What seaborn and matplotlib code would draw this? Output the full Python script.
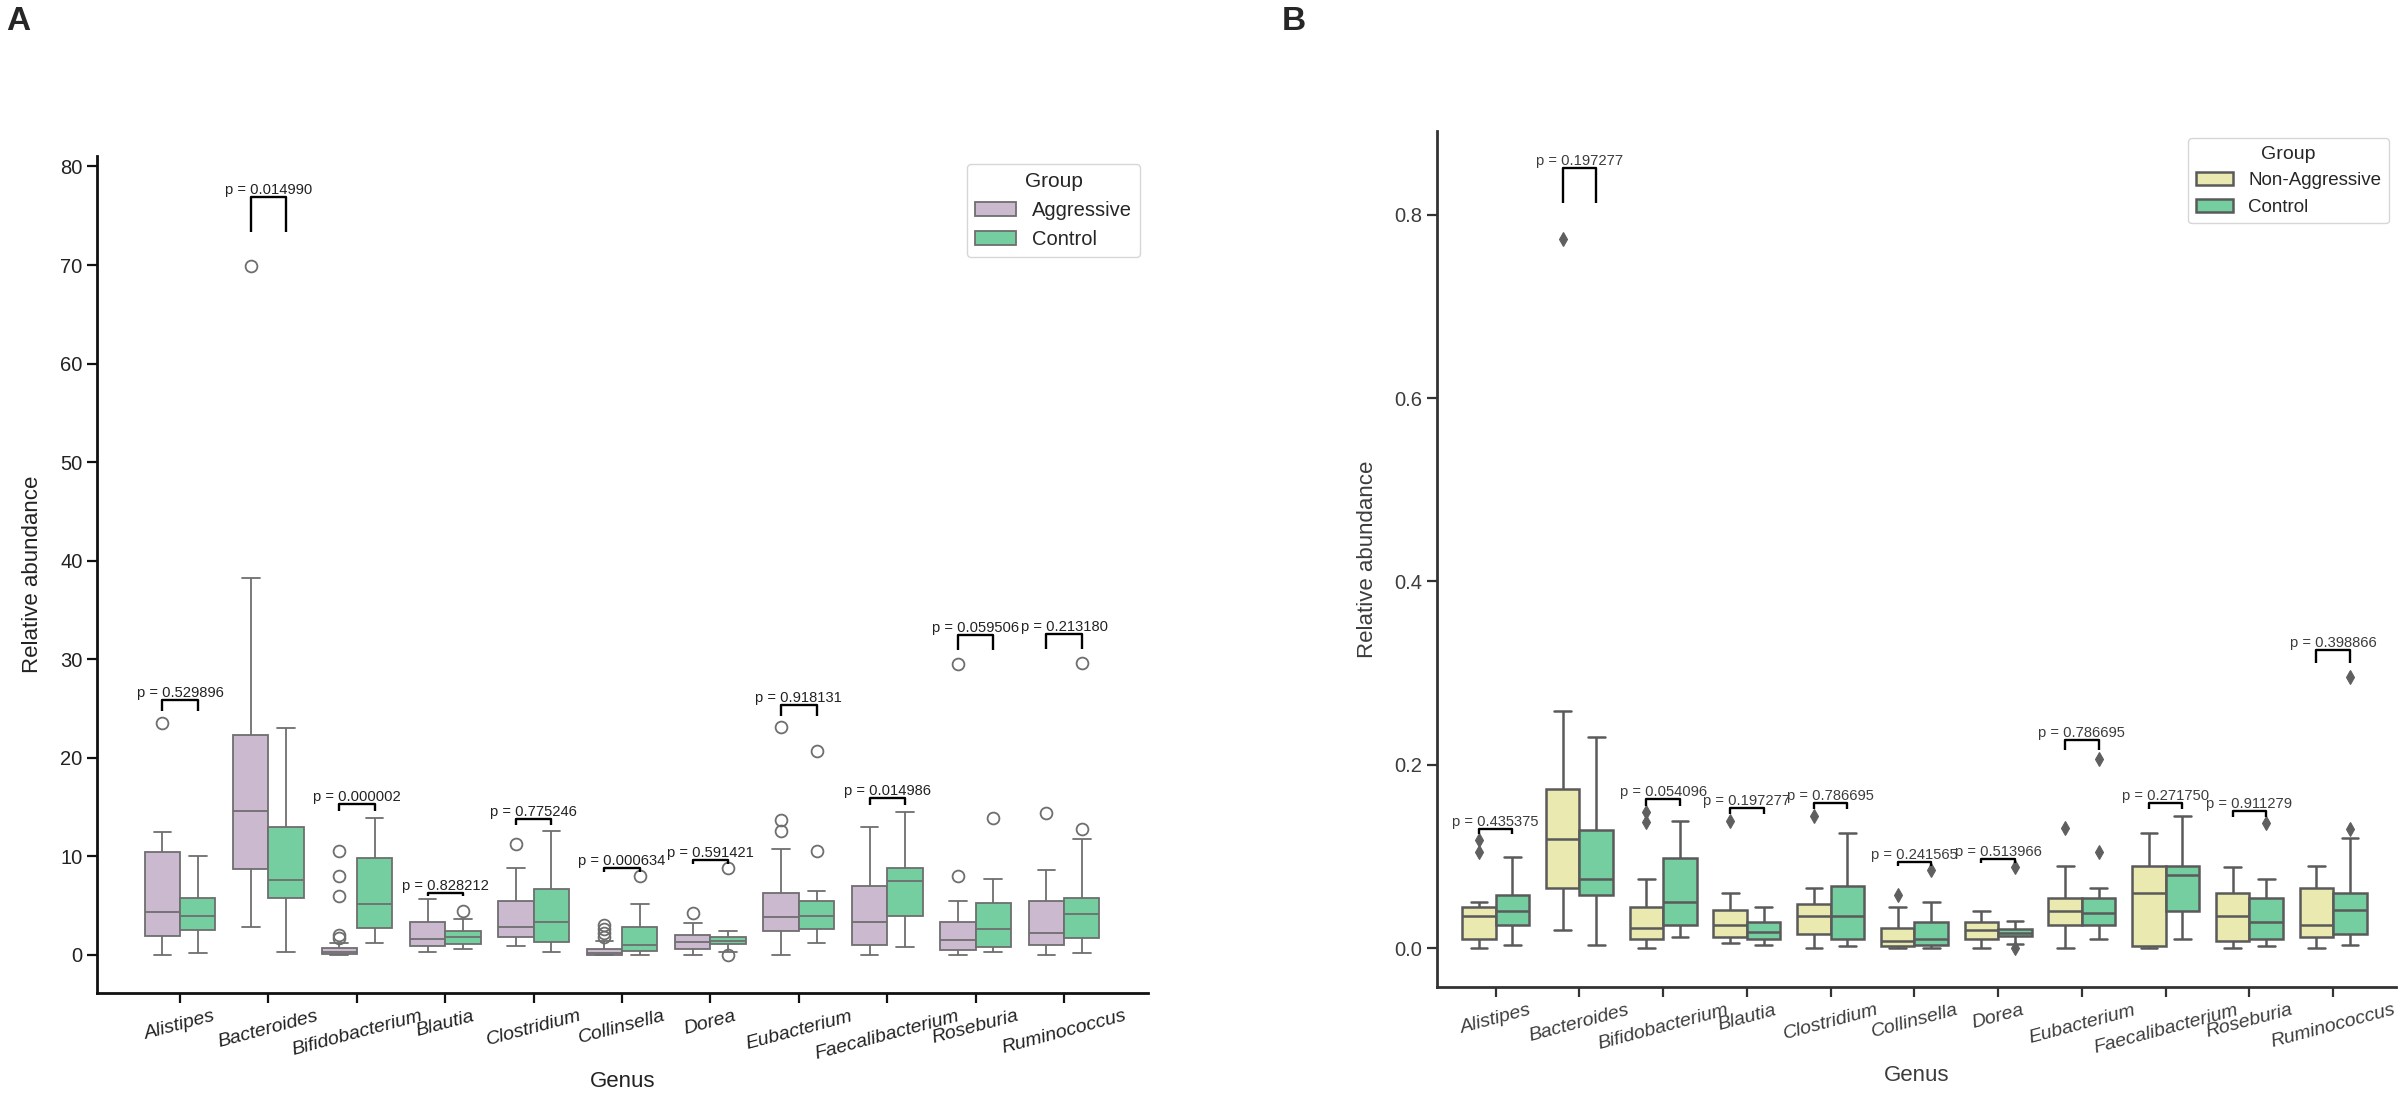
import numpy as np
import pandas as pd
import matplotlib
matplotlib.use("Agg")
import matplotlib.pyplot as plt
import seaborn as sns

# ---------------- data ----------------
genera = ["Alistipes", "Bacteroides", "Bifidobacterium", "Blautia", "Clostridium",
          "Collinsella", "Dorea", "Eubacterium", "Faecalibacterium", "Roseburia",
          "Ruminococcus"]

# Panel A : Aggressive vs Control (box summaries)
aggA_lo  = [0.0, 2.8, 0.0, 0.3, 0.9, 0.0, 0.0, 0.0, 0.0, 0.0, 0.0]
aggA_q1  = [1.9, 8.7, 0.1, 0.9, 1.8, 0.0, 0.6, 2.4, 1.0, 0.5, 1.0]
aggA_med = [4.4, 14.6, 0.3, 1.6, 2.8, 0.15, 1.3, 3.9, 3.3, 1.5, 2.2]
aggA_q3  = [10.4, 22.3, 0.7, 3.3, 5.5, 0.6, 2.0, 6.3, 7.0, 3.3, 5.5]
aggA_hi  = [12.5, 38.2, 1.2, 5.7, 8.8, 1.4, 3.2, 10.8, 13.0, 5.5, 8.6]
aggA_out = [[23.56], [69.9], [1.7, 2.0, 6.0, 8.0, 10.5], [], [11.3],
            [1.8, 2.2, 2.6, 3.0], [4.3], [12.6, 13.7, 23.1], [], [8.0, 29.5], [14.4]]

ctlA_lo  = [0.2, 0.3, 1.2, 0.6, 0.3, 0.0, 0.3, 1.2, 0.8, 0.3, 0.2]
ctlA_q1  = [2.5, 5.8, 2.7, 1.1, 1.3, 0.4, 1.1, 2.6, 4.0, 0.8, 1.7]
ctlA_med = [4.0, 7.6, 5.2, 1.8, 3.3, 1.0, 1.4, 4.0, 7.5, 2.6, 4.2]
ctlA_q3  = [5.8, 13.0, 9.8, 2.4, 6.7, 2.8, 1.8, 5.5, 8.8, 5.3, 5.8]
ctlA_hi  = [10.0, 23.05, 13.9, 3.6, 12.55, 5.2, 2.4, 6.5, 14.5, 7.7, 11.8]
ctlA_out = [[], [], [], [4.5], [], [8.0], [0.0, 8.8], [10.5, 20.7], [], [13.9], [12.8, 29.6]]

pA = ["0.529896", "0.014990", "0.000002", "0.828212", "0.775246", "0.000634",
      "0.591421", "0.918131", "0.014986", "0.059506", "0.213180"]

# Panel B : Non-Aggressive vs Control
naB_lo  = [0.0, 0.02, 0.0, 0.005, 0.0, 0.0, 0.0, 0.0, 0.0, 0.0, 0.0]
naB_q1  = [0.01, 0.065, 0.01, 0.012, 0.015, 0.002, 0.01, 0.025, 0.002, 0.008, 0.012]
naB_med = [0.035, 0.119, 0.022, 0.025, 0.035, 0.008, 0.02, 0.04, 0.06, 0.035, 0.025]
naB_q3  = [0.045, 0.174, 0.045, 0.042, 0.048, 0.022, 0.028, 0.055, 0.09, 0.06, 0.065]
naB_hi  = [0.05, 0.259, 0.075, 0.06, 0.065, 0.045, 0.04, 0.09, 0.126, 0.088, 0.09]
naB_out = [[0.105, 0.118], [0.774], [0.138, 0.148], [0.139], [0.144], [0.058],
           [], [0.131], [], [], []]

ctlB_lo  = [0.003, 0.003, 0.012, 0.003, 0.002, 0.0, 0.004, 0.01, 0.01, 0.002, 0.003]
ctlB_q1  = [0.025, 0.058, 0.025, 0.01, 0.01, 0.003, 0.013, 0.025, 0.04, 0.01, 0.015]
ctlB_med = [0.04, 0.075, 0.05, 0.018, 0.035, 0.01, 0.016, 0.038, 0.08, 0.028, 0.042]
ctlB_q3  = [0.058, 0.129, 0.098, 0.028, 0.068, 0.028, 0.021, 0.055, 0.09, 0.055, 0.06]
ctlB_hi  = [0.0998, 0.230, 0.139, 0.045, 0.125, 0.05, 0.03, 0.065, 0.144, 0.075, 0.12]
ctlB_out = [[], [], [], [], [], [0.085], [0.0, 0.088], [0.105, 0.206], [], [0.136],
            [0.13, 0.296]]

pB = ["0.435375", "0.197277", "0.054096", "0.197277", "0.786695", "0.241565",
      "0.513966", "0.786695", "0.271750", "0.911279", "0.398866"]

groupsA = ["Aggressive", "Control"]
groupsB = ["Non-Aggressive", "Control"]


def sample(lo, q1, med, q3, hi, out, reps=10):
    # a sample whose quartiles, whisker ends and outliers are the read values
    return [lo] + [q1] * reps + [med] * reps + [q3] * reps + [hi] + list(out)


def build(groups, a, b):
    rows = []
    for gname, summ in zip(groups, (a, b)):
        lo, q1, med, q3, hi, out = summ
        for i, g in enumerate(genera):
            for v in sample(lo[i], q1[i], med[i], q3[i], hi[i], out[i]):
                rows.append((g, gname, v))
    return pd.DataFrame(rows, columns=["Genus", "Group", "value"])


dfA = build(groupsA, (aggA_lo, aggA_q1, aggA_med, aggA_q3, aggA_hi, aggA_out),
            (ctlA_lo, ctlA_q1, ctlA_med, ctlA_q3, ctlA_hi, ctlA_out))
dfB = build(groupsB, (naB_lo, naB_q1, naB_med, naB_q3, naB_hi, naB_out),
            (ctlB_lo, ctlB_q1, ctlB_med, ctlB_q3, ctlB_hi, ctlB_out))

# ---------------- style ----------------
sns.set_style("ticks")
plt.rcParams["font.family"] = ["Liberation Sans", "DejaVu Sans"]

W, H = 2400, 1107
fig = plt.figure(figsize=(W / 100, H / 100), dpi=100)


def px_axes(x0, y0, x1, y1):
    return fig.add_axes([x0 / W, 1 - y1 / H, (x1 - x0) / W, (y1 - y0) / H])


axA = px_axes(97, 156, 1148, 993)
axB = px_axes(1437, 131, 2396, 987)


def panel(ax, df, groups, palette, pvals, flier, lw, linecol, txtcol, spinecol,
          ylim, xlim, yticks, ticklabels, legend_fs):
    sns.boxplot(data=df, x="Genus", y="value", hue="Group", order=genera,
                hue_order=groups, palette=palette, width=0.8, linewidth=lw,
                linecolor=linecol, fliersize=flier["markersize"], flierprops=flier,
                ax=ax)
    # significance brackets
    for i, g in enumerate(genera):
        m = df.loc[df["Genus"] == g, "value"].max()
        x1, x2 = i - 0.2, i + 0.2
        y1, y2 = m * 1.05, m * 1.1
        ax.plot([x1, x1, x2, x2], [y1, y2, y2, y1], color="black", lw=1.7,
                solid_capstyle="butt")
        ax.text(i, y2, f"p = {pvals[i]}", ha="center", va="bottom",
                fontsize=10.6, color=txtcol)
    ax.set_ylim(*ylim)
    ax.set_xlim(*xlim)
    ax.set_yticks(yticks)
    ax.set_yticklabels(ticklabels)
    ax.set_xlabel("Genus", fontsize=16, color=txtcol, labelpad=6)
    ax.set_ylabel("Relative abundance", fontsize=16, color=txtcol, labelpad=12)
    ax.tick_params(axis="both", length=7, width=1.6, colors=spinecol,
                   labelcolor=txtcol, labelsize=14.5)
    for lab in ax.get_xticklabels():
        lab.set_rotation(15)
        lab.set_fontstyle("italic")
        lab.set_fontsize(14)
    sns.despine(ax=ax)
    for s in ("left", "bottom"):
        ax.spines[s].set_linewidth(2.0)
        ax.spines[s].set_color(spinecol)
    h, l = ax.get_legend_handles_labels()
    ax.legend(h, l, title="Group", loc="upper right", fontsize=legend_fs,
              title_fontsize=legend_fs + 0.5, frameon=True, borderaxespad=0.4,
              handlelength=2.0)


panel(axA, dfA, groupsA, ["#CDB5D4", "#66DDA0"], pA,
      dict(marker="o", markersize=8.5, markerfacecolor="none",
           markeredgecolor="#6e6e6e", markeredgewidth=1.3),
      1.3, "#6e6e6e", "#222222", "#111111",
      (-3.86, 81.06), (-0.94, 10.95),
      [0, 10, 20, 30, 40, 50, 60, 70, 80],
      ["0", "10", "20", "30", "40", "50", "60", "70", "80"], 14.5)

panel(axB, dfB, groupsB, ["#F3F2A6", "#66DDA0"], pB,
      dict(marker="d", markersize=7, markerfacecolor="#5f5f5f",
           markeredgecolor="#5f5f5f", markeredgewidth=0.8),
      1.8, "#5a5a5a", "#3c3c3c", "#333333",
      (-0.0425, 0.8915), (-0.70, 10.75),
      [0.0, 0.2, 0.4, 0.6, 0.8],
      ["0.0", "0.2", "0.4", "0.6", "0.8"], 13.5)

fig.text(6 / W, 1 - 6 / H, "A", fontsize=24, fontweight="bold", va="top", ha="left")
fig.text(1282 / W, 1 - 6 / H, "B", fontsize=24, fontweight="bold", va="top", ha="left")

fig.savefig("out.png", dpi=100)
